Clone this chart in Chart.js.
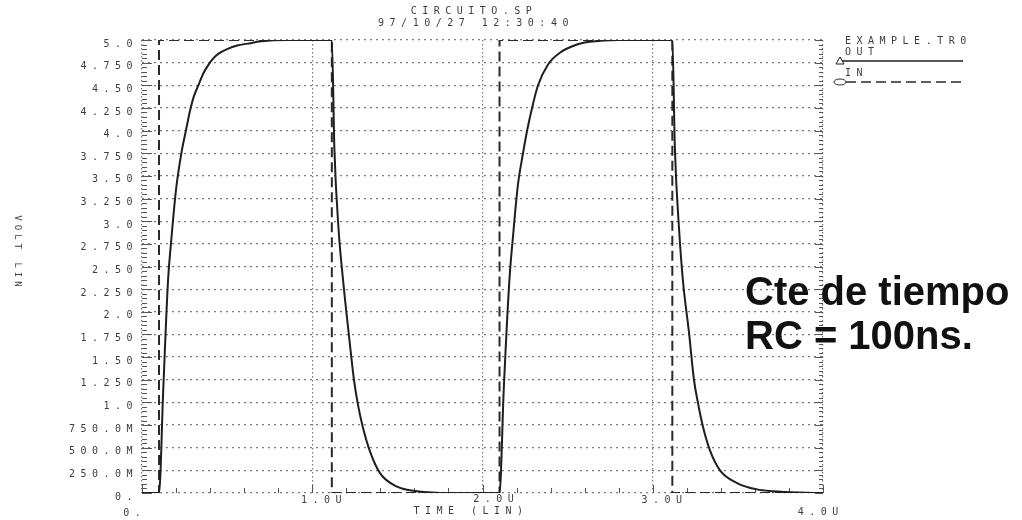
<!DOCTYPE html>
<html>
<head>
<meta charset="utf-8">
<script src="https://cdn.jsdelivr.net/npm/chart.js@4.4.0/dist/chart.umd.min.js"></script>
<style>
    html, body { margin: 0; padding: 0; background: #fff; }
    #wrap { width: 1022px; height: 520px; position: relative; }
</style>
</head>
<body>
<div id="wrap"><canvas id="chart"></canvas></div>
<script>
// ===== DATA (time in us, volts) =====

const outTime = [
    0, 0.1, 0.125, 0.153, 0.17, 0.2, 0.235, 0.258, 0.282, 0.305, 0.329, 0.36, 0.388, 0.42, 0.45, 0.5, 0.56, 0.62, 0.7, 0.85,
    1.115, 1.13, 1.155, 1.181, 1.216, 1.245, 1.269, 1.298, 1.339, 1.398, 1.498, 1.615, 1.81,
    2.1, 2.125, 2.158, 2.18, 2.208, 2.238, 2.261, 2.285, 2.326, 2.385, 2.455, 2.555, 2.631, 2.8,
    3.115, 3.13, 3.155, 3.177, 3.213, 3.242, 3.266, 3.295, 3.336, 3.395, 3.495, 3.612, 3.706, 3.865, 4.0,
];
const outVolts = [
    0, 0, 1.15, 2.35, 2.75, 3.35, 3.79, 4.0, 4.22, 4.38, 4.49, 4.63, 4.72, 4.8, 4.85, 4.9, 4.94, 4.96, 4.985, 5.0,
    5.0, 3.8, 2.9, 2.35, 1.73, 1.25, 0.97, 0.72, 0.46, 0.22, 0.07, 0.02, 0.0,
    0, 1.15, 2.35, 2.85, 3.4, 3.75, 3.99, 4.2, 4.5, 4.73, 4.86, 4.95, 4.98, 5.0,
    5.0, 3.8, 2.9, 2.35, 1.77, 1.25, 0.99, 0.73, 0.47, 0.25, 0.11, 0.04, 0.02, 0.005, 0,
];

const inTime = [0, 0.1, 0.1, 1.115, 1.115, 2.1, 2.1, 3.115, 3.115, 4.0];
const inVolts = [0, 0, 5, 5, 0, 0, 5, 5, 0, 0];

const xTickValues = [0, 1, 2, 3, 4];
const xTickLabels = ['0.', '1.0U', '2.0U', '3.0U', '4.0U'];
const yTickValues = [0, 0.25, 0.5, 0.75, 1, 1.25, 1.5, 1.75, 2, 2.25, 2.5, 2.75, 3, 3.25, 3.5, 3.75, 4, 4.25, 4.5, 4.75, 5];
const yTickLabels = ['0.', '250.0M', '500.0M', '750.0M', '1.0', '1.250', '1.50', '1.750', '2.0', '2.250', '2.50',
    '2.750', '3.0', '3.250', '3.50', '3.750', '4.0', '4.250', '4.50', '4.750', '5.0'];

const plotTitle = ['CIRCUITO.SP', '97/10/27 12:30:40'];
const legendFile = 'EXAMPLE.TR0';
const seriesNames = ['OUT', 'IN'];
const xTitle = 'TIME (LIN)';
const yTitle = 'VOLT LIN';
const note = ['Cte de tiempo', 'RC = 100ns.'];

// ===== DRAWING =====

const MONO = '10px "DejaVu Sans Mono"';
const INK = '#3e3e3e';
const SPACING = '5.5px';

function smallText(ctx, txt, x, y, align) {
    ctx.save();
    ctx.font = MONO;
    ctx.fillStyle = INK;
    ctx.letterSpacing = SPACING;
    ctx.textAlign = align || 'left';
    ctx.textBaseline = 'middle';
    ctx.fillText(txt, x, y);
    ctx.restore();
}

// label offsets from each x tick (dx, dy below the plot)
const xLabelShift = [[-10, 20], [9, 7], [11, 6], [9, 7], [-5, 19]];

const plotDecor = {
    id: 'plotDecor',
    beforeDraw(chart) {
        chart.ctx.letterSpacing = SPACING;
    },
    beforeDatasetsDraw(chart) {
        const { ctx, chartArea: a, scales: { x, y } } = chart;
        ctx.save();
        ctx.letterSpacing = '0px';
        ctx.strokeStyle = '#555';
        ctx.lineWidth = 1;
        ctx.beginPath();
        // inward minor ticks on the left and right axes
        for (let i = 0; i <= 100; i++) {
            const py = Math.round(y.getPixelForValue(i * 0.05)) + 0.5;
            const major = i % 5 === 0;
            ctx.moveTo(a.left, py);
            ctx.lineTo(a.left + (major ? 10 : 5), py);
            ctx.moveTo(a.right, py);
            ctx.lineTo(a.right - (major ? 8 : 4), py);
        }
        // small upward ticks along the time axis
        for (let i = 0; i <= 20; i++) {
            const px = Math.round(x.getPixelForValue(i * 0.2)) + 0.5;
            ctx.moveTo(px, a.bottom);
            ctx.lineTo(px, a.bottom - (i % 5 === 0 ? 8 : 5));
        }
        ctx.stroke();
        ctx.restore();
    },
    afterDraw(chart) {
        const { ctx, chartArea: a, scales: { x } } = chart;
        const outDs = chart.data.datasets[0];
        const inDs = chart.data.datasets[1];

        // header
        smallText(ctx, plotTitle[0], 474, 11, 'center');
        smallText(ctx, plotTitle[1], 476, 23, 'center');

        // x tick labels and axis titles
        xTickValues.forEach((v, i) => {
            const [dx, dy] = xLabelShift[i];
            smallText(ctx, xTickLabels[i], x.getPixelForValue(v) + dx + 2.75, a.bottom + dy, 'center');
        });
        smallText(ctx, xTitle, 471, 511, 'center');

        ctx.save();
        ctx.translate(17, 251);
        ctx.rotate(Math.PI / 2);
        ctx.font = '9px "DejaVu Sans Mono"';
        ctx.letterSpacing = '4px';
        ctx.fillStyle = INK;
        ctx.textAlign = 'center';
        ctx.textBaseline = 'middle';
        ctx.fillText(yTitle, 2, 0);
        ctx.restore();

        // legend block
        smallText(ctx, legendFile, 845, 41);
        smallText(ctx, seriesNames[0], 845, 52);
        smallText(ctx, seriesNames[1], 845, 73);
        ctx.save();
        ctx.letterSpacing = '0px';
        ctx.lineWidth = 1.6;
        ctx.strokeStyle = outDs.borderColor;
        ctx.beginPath();
        ctx.moveTo(842, 61);
        ctx.lineTo(963, 61);
        ctx.stroke();
        ctx.lineWidth = 1;
        ctx.beginPath();
        ctx.moveTo(836, 64);
        ctx.lineTo(840, 57);
        ctx.lineTo(844, 64);
        ctx.closePath();
        ctx.stroke();
        ctx.strokeStyle = inDs.borderColor;
        ctx.lineWidth = 1.6;
        ctx.setLineDash(inDs.borderDash);
        ctx.beginPath();
        ctx.moveTo(846, 82);
        ctx.lineTo(963, 82);
        ctx.stroke();
        ctx.setLineDash([]);
        ctx.lineWidth = 1;
        ctx.beginPath();
        ctx.ellipse(840, 82, 6, 3, 0, 0, Math.PI * 2);
        ctx.stroke();
        ctx.restore();

        // annotation
        ctx.save();
        ctx.letterSpacing = '0px';
        ctx.font = 'bold 40px "Liberation Sans"';
        ctx.fillStyle = '#111';
        ctx.textAlign = 'left';
        ctx.textBaseline = 'alphabetic';
        ctx.fillText(note[0], 745, 305);
        ctx.fillText(note[1], 745, 349);
        ctx.restore();
    },
};

const ctx = document.getElementById('chart').getContext('2d');
new Chart(ctx, {
    type: 'line',
    data: {
        datasets: [
            {
                label: seriesNames[0],
                data: outTime.map((t, i) => ({ x: t, y: outVolts[i] })),
                borderColor: '#1e1e1e',
                borderWidth: 2,
                pointRadius: 0,
                cubicInterpolationMode: 'monotone',
                fill: false,
            },
            {
                label: seriesNames[1],
                data: inTime.map((t, i) => ({ x: t, y: inVolts[i] })),
                borderColor: '#2a2a2a',
                borderWidth: 2,
                borderDash: [10, 5],
                pointRadius: 0,
                tension: 0,
                fill: false,
            },
        ],
    },
    options: {
        responsive: true,
        maintainAspectRatio: false,
        animation: false,
        layout: { padding: { top: 40, right: 199, left: 0, bottom: 0 } },
        plugins: { legend: { display: false }, tooltip: { enabled: false } },
        scales: {
            x: {
                type: 'linear',
                min: 0,
                max: 4,
                afterBuildTicks: (s) => { s.ticks = xTickValues.map((v) => ({ value: v })); },
                afterFit: (s) => { s.height = 27; },
                ticks: { display: false },
                grid: { color: '#7a7a7a', lineWidth: 1.2, drawTicks: false },
                border: { display: false, dash: [1.5, 2.5] },
            },
            y: {
                min: 0,
                max: 5,
                afterBuildTicks: (s) => { s.ticks = yTickValues.map((v) => ({ value: v })); },
                afterFit: (s) => { s.width = 142; },
                ticks: {
                    callback: (v, i) => yTickLabels[i],
                    font: { family: 'DejaVu Sans Mono', size: 10 },
                    color: INK,
                    padding: 4,
                    labelOffset: 4,
                },
                grid: { color: '#7a7a7a', lineWidth: 1.2, drawTicks: false },
                border: { display: false, dash: [2, 4] },
            },
        },
    },
    plugins: [plotDecor],
});
</script>
</body>
</html>
